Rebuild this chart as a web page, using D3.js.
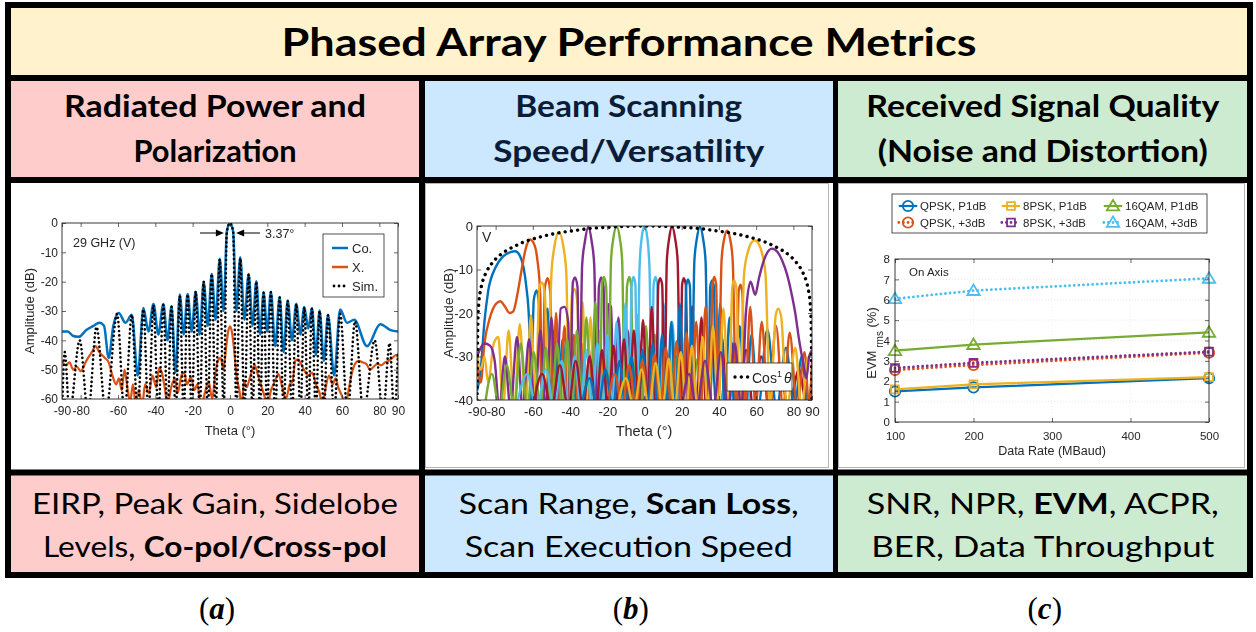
<!DOCTYPE html>
<html><head><meta charset="utf-8">
<script src="https://cdn.jsdelivr.net/npm/d3@7/dist/d3.min.js"></script>
<style>
html,body{margin:0;padding:0;background:#fff;}
svg{display:block;}
</style></head>
<body>
<svg id="fig" width="1256" height="632"></svg>
<script>
// ---------------- text content ----------------
const figTitle = 'Phased Array Performance Metrics';
const panelHeads = [
  ['Radiated Power and', 'Polarization'],
  ['Beam Scanning', 'Speed/Versatility'],
  ['Received Signal Quality', '(Noise and Distortion)']
];
// [text, isBold] runs per line
const panelMetrics = [
  [[['EIRP, Peak Gain, Sidelobe', 0]], [['Levels, ', 0], ['Co-pol/Cross-pol', 1]]],
  [[['Scan Range, ', 0], ['Scan Loss', 1], [',', 0]], [['Scan Execution Speed', 0]]],
  [[['SNR, NPR, ', 0], ['EVM', 1], [', ACPR,', 0]], [['BER, Data Throughput', 0]]]
];
const panelTags = ['a', 'b', 'c'];

// ---------------- panel (a): 29 GHz pattern, [theta (deg), amplitude (dB)] ----------------
const coPol = [[-90,-37],[-87,-37],[-84,-38.5],[-81,-38.8],[-77,-36.5],[-73,-35],[-70,-34],[-67.5,-35],[-65,-46],[-62.5,-35],
  [-59.6,-30.7],[-56,-34],[-52.6,-31.3],[-49.4,-52],[-46.4,-29],[-43.7,-37],[-41,-27.6],[-38.4,-38],[-35.7,-27.6],[-33.5,-40],
  [-31.3,-28.4],[-29.2,-51],[-26.9,-24.4],[-24.8,-38],[-22.7,-24.2],[-20.5,-37],[-18.4,-23.4],[-16.2,-38],[-14.1,-20],[-11.9,-35],
  [-9.8,-17.4],[-7.7,-33],[-5.5,-12.2],[-3.4,-30],[-1.7,-3],[0,0],[1.7,-3],[3.4,-30],[5.5,-11.7],[7.7,-33],[10,-17.4],[12.1,-35],
  [14.1,-19.9],[16.1,-38],[18,-23.6],[19.9,-37],[21.9,-23.4],[24.2,-42],[26.6,-25.2],[28.7,-44],[30.9,-26.4],[33.2,-40],[35.5,-27.5],
  [37.7,-38],[39.8,-28.6],[41.9,-36],[43.9,-29],[46,-45],[48,-29.8],[50.3,-47],[52.5,-31.3],[55.8,-52],[59,-29.5],[62.7,-34],
  [66.6,-33],[73.4,-42],[80.5,-34.5],[86,-36.5],[90,-37]];
const crossPol = [[-90,-47],[-88,-48.5],[-86,-47.5],[-84,-50],[-82,-49],[-80,-50.5],[-77,-47],[-74,-44],[-72,-42],[-70,-44],
  [-67,-46],[-65,-47.5],[-63,-52],[-61,-55],[-59.5,-53],[-58,-57],[-56.5,-50],[-55,-56],[-53.5,-61],[-52,-55],[-50.5,-62],[-49,-57],
  [-47,-62],[-45.5,-55],[-43.5,-58],[-41.5,-52],[-39.5,-56],[-38,-49.5],[-36.5,-51],[-35,-56],[-33.5,-62],[-31.5,-56],[-29.5,-53],
  [-28,-58],[-26,-52],[-24.5,-51],[-23,-55],[-21,-52.5],[-19,-57],[-17.5,-55],[-15.5,-62],[-13.5,-58],[-11.5,-54],[-9.5,-60],[-8,-52],
  [-6.5,-47],[-5,-46],[-3.5,-50],[-2,-42],[-1,-37],[0,-35.2],[1,-37],[2,-42],[3.5,-52],[5,-57],[6.3,-62],[7.5,-54],[9,-56],[10.5,-53],
  [12,-50],[13.3,-48.5],[15,-52],[16.5,-55],[18,-58],[20,-62],[22,-57],[24,-54],[26,-51.5],[28,-56],[30,-60],[32,-55],[33.5,-54],
  [35,-47],[36.5,-46.5],[38,-48],[40,-50.5],[42,-52],[44,-51],[46,-55],[48,-58],[49.5,-62],[51,-57],[53,-52],[55,-55],[56.5,-53],
  [58,-56],[60,-59],[62,-62],[63.5,-57],[65,-52],[67,-48],[69,-47],[71,-47.5],[73,-48],[75,-50],[77,-49],[79,-48],[81,-48.5],
  [83,-47.5],[85,-47],[87,-46],[89,-45],[90,-46]];
const simPattern = [[-90,-65],[-88.5,-44],[-86,-65],[-80.5,-40],[-76,-65],[-71.5,-35.5],[-66.5,-65],[-60.5,-31],[-56.5,-65],
  [-52.6,-31.3],[-49.5,-65],[-46.4,-29.5],[-43.7,-65],[-41,-28],[-38.4,-65],[-35.7,-28],[-33.5,-65],[-31.3,-28.6],[-29.1,-65],
  [-26.9,-25],[-24.8,-65],[-22.7,-24.4],[-20.5,-65],[-18.4,-23.4],[-16.2,-65],[-14.1,-20],[-11.9,-65],[-9.8,-17.4],[-7.7,-65],
  [-5.5,-12.4],[-3.4,-65],[-1.7,-3],[0,0],[1.7,-3],[3.4,-65],[5.5,-12],[7.7,-65],[10,-17.6],[12.1,-65],[14.1,-20],[16.1,-65],
  [18,-23.8],[19.9,-65],[21.9,-23.6],[24.2,-65],[26.6,-25.4],[28.7,-65],[30.9,-26.6],[33.2,-65],[35.5,-27.7],[37.7,-65],[39.8,-28.8],
  [41.9,-65],[43.9,-29.2],[46,-65],[48,-30],[50.3,-65],[52.5,-31.5],[55.8,-65],[59,-31],[63,-65],[67,-33.5],[71.5,-65],[77.5,-40],
  [82,-65],[85.5,-41],[88,-65],[90,-44]];
const patternLegend = ['Co.', 'X.', 'Sim.'];
const thetaTicks = [-90,-80,-60,-40,-20,0,20,40,60,80,90];
const ampTicksA = [0,-10,-20,-30,-40,-50,-60];
const beamwidthDeg = 3.37;

// ---------------- panel (b): scanned beams, [theta (deg), amplitude (dB)] ----------------
const beamM68 = [[-90,-38],[-88,-33],[-86,-22],[-84,-15],[-80,-9.5],[-76,-7],[-72,-6],[-69.5,-5.8],[-67,-6.8],[-65,-9.5],[-63.5,-14],
  [-62,-22],[-61,-42],[-59.5,-17],[-58,-14.8],[-56.5,-19],[-55,-42],[-53.2,-20],[-52,-19],[-50.5,-42],[-48.5,-24],[-46.5,-42],[-44,-26],
  [-41.5,-42],[-39,-27],[-36.5,-42],[-34,-29],[-31.5,-42],[-29,-30],[-26.5,-42],[-24,-31],[-21.5,-42],[-19,-33],[-16,-42],[-13,-34],
  [-10,-42],[-6,-35],[-2,-42]];
const beamM60 = [[-90,-31],[-88,-36],[-86,-27],[-83,-21],[-80,-18],[-77.5,-17.3],[-75,-18.5],[-72.5,-20],[-70.5,-19.6],[-68,-15],
  [-66,-10],[-64,-5.5],[-61.5,-3.1],[-59,-4.5],[-57.5,-8],[-56,-16],[-55,-42],[-53.5,-14],[-52,-12],[-50.5,-16],[-49.5,-42],[-47.5,-20],
  [-45.5,-42],[-43,-23],[-40.5,-42],[-38,-25],[-35.5,-42],[-33,-27],[-30.5,-42],[-28,-28],[-25.5,-42],[-23,-30],[-20.5,-42],[-18,-31],
  [-15,-42],[-12,-32],[-9,-42],[-5,-34],[-1,-42],[3,-35],[7,-42]];
const beamM45 = [[-90,-29],[-88,-33],[-86,-30],[-84,-36],[-81,-27],[-78.5,-25.5],[-76,-42],[-73,-24],[-70,-42],[-67,-22.5],[-64,-42],
  [-61,-20.5],[-58.5,-42],[-56.5,-14],[-55,-13],[-53.5,-16],[-52,-42],[-50,-11],[-48.5,-5],[-46,-1.4],[-43.5,-5],[-42,-11],[-40.5,-42],
  [-39,-16],[-37.5,-14.5],[-36,-18],[-35,-42],[-33.2,-17.5],[-31.5,-42],[-29,-21],[-27,-42],[-24.5,-24],[-22,-42],[-19.5,-26],[-17,-42],
  [-14,-28],[-11,-42],[-8,-29],[-5,-42],[-1,-31],[3,-42],[7,-32],[11,-42]];
const beamM30 = [[-90,-30],[-88,-28],[-86,-27],[-83,-27.5],[-80.5,-31],[-78,-42],[-75,-30],[-72,-42],[-68.5,-25.5],[-65.5,-42],
  [-62,-26],[-59,-42],[-56,-24],[-53,-42],[-50,-21],[-47.5,-42],[-45,-19],[-43,-18.6],[-41,-22],[-40,-42],[-38.5,-13],[-37.3,-11.8],
  [-36,-14],[-35,-42],[-33.5,-9],[-32,-3.5],[-30.2,-0.2],[-28.4,-3.5],[-27,-9],[-25.6,-42],[-24.5,-14],[-23.3,-11.8],[-22,-14],[-21,-42],
  [-19.5,-18],[-18,-18.5],[-16.5,-42],[-14,-21],[-11.5,-42],[-9,-24],[-6,-42],[-3,-26],[0,-42],[3,-27.5],[6,-42],[9.5,-29],[13,-42],
  [17,-30],[21,-42]];
const beamM15 = [[-86,-42],[-82,-34],[-78,-42],[-74,-32],[-70,-42],[-66.5,-27],[-63,-42],[-59.5,-29],[-56,-42],[-53,-28],[-50,-42],
  [-47,-27],[-44.3,-42],[-41.5,-26],[-39,-42],[-36.3,-24],[-33.7,-42],[-31.2,-21],[-28.8,-42],[-26.4,-17.5],[-24,-42],[-22.8,-13],
  [-21.8,-11.7],[-20.6,-14],[-19.4,-42],[-18,-8],[-16.8,-3],[-15,-0.2],[-13.2,-3],[-12,-8],[-10.6,-42],[-9.4,-14],[-8.2,-11.7],
  [-7.2,-13.5],[-6,-42],[-3.8,-20.5],[-1.6,-42],[0.8,-23],[3.2,-42],[5.6,-25],[8,-42],[10.6,-27],[13.3,-42],[16,-28],[18.8,-42],
  [21.8,-29],[25,-42],[28.5,-30.5],[32,-42],[36,-32],[40,-42],[44.5,-33],[49,-42]];
const beam0 = [[-69,-42],[-63,-34],[-58,-42],[-53,-33],[-48.5,-42],[-44.5,-31],[-41,-42],[-37.5,-30],[-34.3,-42],[-31.2,-28.5],
  [-28.2,-42],[-25.3,-27],[-22.5,-42],[-20,-25],[-17.4,-42],[-15,-22],[-12.6,-42],[-10.3,-17.8],[-8,-42],[-6.9,-13.5],[-5.9,-11.7],
  [-4.9,-13.5],[-4,-42],[-2.7,-10],[-1.6,-3],[0,0],[1.6,-3],[2.7,-10],[4,-42],[4.9,-13.5],[5.9,-11.7],[6.9,-13.5],[8,-42],[10.3,-17.8],
  [12.6,-42],[15,-22],[17.4,-42],[20,-25],[22.5,-42],[25.3,-27],[28.2,-42],[31.2,-28.5],[34.3,-42],[37.5,-30],[41,-42],[44.5,-31],
  [48.5,-42],[53,-33],[58,-42],[63,-34],[69,-42]];
const beamP15 = [[-60,-42],[-55,-34],[-50,-42],[-45.5,-32],[-41,-42],[-37,-31],[-33,-42],[-29.5,-30],[-26,-42],[-22.8,-28.5],
  [-19.6,-42],[-16.6,-27.5],[-13.8,-42],[-11,-26],[-8.3,-42],[-5.7,-24],[-3.2,-42],[-0.8,-21.6],[1.6,-42],[3.9,-18.6],[6.2,-42],
  [7.4,-13.5],[8.4,-12],[9.5,-13.5],[10.7,-42],[12,-8],[13.2,-3],[14.8,-0.1],[16.5,-3],[17.8,-8],[19.3,-42],[20.2,-13.5],[21.1,-12],
  [22.2,-13.5],[23.4,-42],[25.6,-18.5],[28,-42],[30.6,-21],[33.2,-42],[35.9,-23],[38.6,-42],[41.5,-25.5],[44.5,-42],[47.6,-27],
  [51,-42],[54.6,-28.5],[58.5,-42],[62.7,-30],[67,-42],[72,-31.5],[77.5,-42],[83,-33],[87.5,-42],[90,-36]];
const beamP30 = [[-34,-42],[-29.5,-35],[-25,-42],[-21,-33],[-17,-42],[-13.5,-31],[-10.2,-42],[-7,-30],[-4,-42],[-1.1,-28.5],
  [1.7,-42],[4.4,-27],[7,-42],[9.5,-25],[12,-42],[14.4,-22],[16.8,-42],[19,-18],[21.3,-42],[22.4,-13.8],[23.4,-12.3],[24.4,-13.8],
  [25.4,-42],[26.8,-8],[28.1,-3],[29.8,-0.2],[31.5,-3],[32.8,-8],[34.3,-42],[35.3,-14],[36.3,-12.5],[37.3,-14],[38.4,-42],[40.7,-17.8],
  [43.1,-42],[45.7,-21],[48.4,-42],[51.2,-23],[54.2,-42],[57.5,-25],[61,-42],[66,-23.8],[71,-42],[76,-28],[80.5,-42],[84.5,-30],
  [88,-42],[90,-33]];
const beamP45 = [[-20,-42],[-16,-34],[-12,-42],[-8.3,-32],[-4.6,-42],[-1.2,-31],[2.2,-42],[5.4,-29.5],[8.5,-42],[11.5,-28],[14.4,-42],
  [17.2,-26.5],[20,-42],[22.6,-24.5],[25.2,-42],[27.8,-22],[30.3,-42],[32.8,-18.5],[35.3,-42],[36.5,-13.5],[37.5,-11.7],[38.5,-13.5],
  [39.6,-42],[41.4,-8],[42.8,-3],[44.4,-1.1],[46,-3],[47.4,-8],[49.3,-42],[50.6,-15],[51.6,-13.5],[52.6,-15.5],[54,-42],[56.8,-18.6],
  [59.7,-42],[63,-22],[66.5,-42],[70.7,-23],[74.5,-42],[78,-24.5],[82,-42],[86,-29],[88.5,-42],[90,-31]];
const beamP60 = [[-14.5,-42],[-10,-35],[-5.7,-42],[-1.6,-33],[2.3,-42],[6,-31.5],[9.6,-42],[13,-30.5],[16.3,-42],[19.5,-29],
  [22.5,-42],[25.5,-27.5],[28.4,-42],[31.2,-25.5],[34,-42],[36.8,-23],[39.6,-42],[42.4,-19],[45.3,-42],[47.2,-14],[48.2,-12.5],
  [49.3,-14],[51.3,-42],[53.5,-11],[55.5,-6],[57.2,-4],[59.2,-3.3],[61.2,-4],[63,-6],[65,-11],[67.5,-42],[70.5,-20.5],[71.8,-19],
  [73.5,-21],[76.5,-42],[81,-28],[84.5,-42],[87.5,-31],[90,-29]];
const beamP68 = [[20,-42],[24,-34],[28,-42],[32.5,-31],[37,-42],[41,-29],[45,-42],[48.5,-27],[52,-42],[54.5,-20],[57,-12.8],
  [59.5,-15.8],[61.5,-12],[63,-9.5],[65.5,-6.5],[68.5,-5.2],[71.5,-6],[74,-8],[76.5,-11],[79,-15.5],[81,-20],[83,-26],[85.5,-32],
  [87,-35],[88.5,-30],[90,-28.5]];
const scannedBeams = [beamM68, beamM60, beamM45, beamM30, beamM15, beam0, beamP15, beamP30, beamP45, beamP60, beamP68];
const cosEnvelope = [[-89.95,-40],[-89.5,-21.6],[-89,-17.6],[-88,-14.6],[-87,-12.8],[-85,-10.6],[-82,-8.6],[-78,-6.8],[-74,-5.6],
  [-70,-4.7],[-65,-3.7],[-60,-3],[-55,-2.4],[-50,-1.9],[-45,-1.5],[-40,-1.2],[-35,-0.9],[-30,-0.6],[-25,-0.4],[-20,-0.3],[-15,-0.15],
  [-10,-0.07],[-5,-0.02],[0,0],[5,-0.02],[10,-0.07],[15,-0.15],[20,-0.3],[25,-0.4],[30,-0.6],[35,-0.9],[40,-1.2],[45,-1.5],[50,-1.9],
  [55,-2.4],[60,-3],[65,-3.7],[70,-4.7],[74,-5.6],[78,-6.8],[82,-8.6],[85,-10.6],[87,-12.8],[88,-14.6],[89,-17.6],[89.5,-21.6],[89.95,-40]];
const ampTicksB = [0,-10,-20,-30,-40];

// ---------------- panel (c): on-axis EVM (%) vs data rate (MBaud) ----------------
const dataRates = [100, 200, 500];
const evmQpskP1 = [1.5, 1.7, 2.15];
const evmQpsk3 = [2.55, 2.8, 3.4];
const evm8pskP1 = [1.6, 1.85, 2.2];
const evm8psk3 = [2.65, 2.9, 3.45];
const evm16qamP1 = [3.5, 3.8, 4.4];
const evm16qam3 = [6.05, 6.45, 7.05];
const evmNames = ['QPSK, P1dB', 'QPSK, +3dB', '8PSK, P1dB', '8PSK, +3dB', '16QAM, P1dB', '16QAM, +3dB'];
const rateTicks = [100, 200, 300, 400, 500];
const evmTicks = [0, 1, 2, 3, 4, 5, 6, 7, 8];

// ---------------- styling ----------------
const matlabColors = ['#0072BD', '#D95319', '#EDB120', '#7E2F8E', '#77AC30', '#4DBEEE', '#A2142F'];
const axisInk = '#262626';
const plotFont = '"Liberation Sans", Arial, Helvetica, sans-serif';
const slideFont = 'Lato, "Open Sans", sans-serif';

const fig = d3.select('#fig');
const defs = fig.append('defs');
defs.append('filter').attr('id', 'soft').attr('x', '-5%').attr('y', '-5%').attr('width', '110%').attr('height', '110%')
  .append('feGaussianBlur').attr('stdDeviation', 0.4);

// ---------------- grid of cells ----------------
const colEdges = [8, 422, 835.5, 1250];
const cellFills = ['#FFCCCC', '#CCE8FF', '#CCEBD0'];
fig.append('rect').attr('x', 8).attr('y', 5).attr('width', 1242).attr('height', 73).attr('fill', '#FFF2CC');
for (let i = 0; i < 3; i++) {
  const w = colEdges[i + 1] - colEdges[i];
  fig.append('rect').attr('x', colEdges[i]).attr('y', 78).attr('width', w).attr('height', 102).attr('fill', cellFills[i]);
  fig.append('rect').attr('x', colEdges[i]).attr('y', 472.5).attr('width', w).attr('height', 102.5).attr('fill', cellFills[i]);
}

function addText(g, x, y, runs, o) {
  const t = g.append('text').attr('x', x).attr('y', y).attr('text-anchor', 'middle')
    .style('font-family', o.family).style('font-size', o.size + 'px').attr('fill', o.fill || '#000');
  runs.forEach(([s, b]) => t.append('tspan').text(s).style('font-weight', b ? 700 : (o.weight || 400)));
  if (o.width) t.attr('textLength', o.width).attr('lengthAdjust', 'spacingAndGlyphs');
  return t;
}

const colCenter = i => (colEdges[i] + colEdges[i + 1]) / 2;
addText(fig, 629, 56, [[figTitle, 1]], {family: slideFont, size: 39, width: 695});
const headWidths = [[302, 163], [227, 271], [353, 330]];
const headInk = ['#000', '#0B1C38', '#000'];
panelHeads.forEach((lines, i) => {
  lines.forEach((s, j) => addText(fig, colCenter(i), 117 + 45 * j, [[s, 1]],
    {family: slideFont, size: 30, width: headWidths[i][j], fill: headInk[i]}));
});
const metricWidths = [[366, 344], [340, 328], [352, 343]];
panelMetrics.forEach((lines, i) => {
  lines.forEach((runs, j) => addText(fig, colCenter(i), 514 + 43 * j, runs,
    {family: slideFont, size: 28, width: metricWidths[i][j]}));
});
panelTags.forEach((s, i) => {
  const t = fig.append('text').attr('x', colCenter(i) + 2).attr('y', 619).attr('text-anchor', 'middle')
    .style('font-family', '"Liberation Serif", "DejaVu Serif", serif').style('font-size', '31px');
  t.append('tspan').text('(');
  t.append('tspan').text(s).style('font-style', 'italic').style('font-weight', 700);
  t.append('tspan').text(')');
});

// thin frames of the embedded plot images
fig.append('rect').attr('x', 425.5).attr('y', 183.5).attr('width', 403).attr('height', 284)
  .attr('fill', 'none').attr('stroke', '#b5b5b5').attr('stroke-width', 1);
fig.append('rect').attr('x', 838.5).attr('y', 183.5).attr('width', 406).attr('height', 284)
  .attr('fill', 'none').attr('stroke', '#b5b5b5').attr('stroke-width', 1);

// ---------------- shared MATLAB-style box axes ----------------
function matlabAxes(g, x, y, xt, yt, o) {
  const [x0, x1] = x.range(), [yb, yt0] = y.range();
  const fmt = d => String(d);
  const style = sel => {
    sel.select('.domain').remove();
    sel.selectAll('line').attr('stroke', axisInk).attr('stroke-width', 0.7);
    sel.selectAll('text').attr('fill', axisInk).style('font-family', plotFont).style('font-size', o.font + 'px');
  };
  g.append('g').attr('transform', `translate(0,${yb})`)
    .call(d3.axisBottom(x).tickValues(xt).tickFormat(fmt).tickSizeInner(-o.tick).tickSizeOuter(0).tickPadding(o.xPad)).call(style);
  g.append('g').attr('transform', `translate(0,${yt0})`)
    .call(d3.axisTop(x).tickValues(xt).tickFormat(() => '').tickSizeInner(-o.tick).tickSizeOuter(0)).call(style);
  g.append('g').attr('transform', `translate(${x0},0)`)
    .call(d3.axisLeft(y).tickValues(yt).tickFormat(fmt).tickSizeInner(-o.tick).tickSizeOuter(0).tickPadding(o.yPad)).call(style);
  g.append('g').attr('transform', `translate(${x1},0)`)
    .call(d3.axisRight(y).tickValues(yt).tickFormat(() => '').tickSizeInner(-o.tick).tickSizeOuter(0)).call(style);
  g.append('rect').attr('x', x0).attr('y', yt0).attr('width', x1 - x0).attr('height', yb - yt0)
    .attr('fill', 'none').attr('stroke', axisInk).attr('stroke-width', 0.9);
}
function plotText(g, x, y, s, size, anchor) {
  return g.append('text').attr('x', x).attr('y', y).attr('text-anchor', anchor || 'start')
    .style('font-family', plotFont).style('font-size', size + 'px').attr('fill', axisInk).text(s);
}
function clipFor(id, x, y) {
  const [x0, x1] = x.range(), [yb, yt0] = y.range();
  defs.append('clipPath').attr('id', id).append('rect').attr('x', x0).attr('y', yt0).attr('width', x1 - x0).attr('height', yb - yt0);
  return `url(#${id})`;
}

// ---------------- panel (a) ----------------
{
  const g = fig.append('g').attr('filter', 'url(#soft)');
  const x = d3.scaleLinear().domain([-90, 90]).range([62, 398]);
  const y = d3.scaleLinear().domain([-60, 0]).range([399, 223]);
  const line = d3.line().x(d => x(d[0])).y(d => y(d[1])).curve(d3.curveMonotoneX);
  const data = g.append('g').attr('clip-path', clipFor('clipA', x, y));
  data.append('path').attr('d', line(coPol)).attr('fill', 'none').attr('stroke', matlabColors[0]).attr('stroke-width', 2.5);
  data.append('path').attr('d', line(crossPol)).attr('fill', 'none').attr('stroke', matlabColors[1]).attr('stroke-width', 2.2);
  data.append('path').attr('d', line(simPattern)).attr('fill', 'none').attr('stroke', '#000').attr('stroke-width', 2.6)
    .attr('stroke-dasharray', '0.01,4.4').attr('stroke-linecap', 'round');
  matlabAxes(g, x, y, thetaTicks, ampTicksA, {tick: 4, font: 12, xPad: 7, yPad: 4});
  plotText(g, 230, 435, 'Theta (°)', 13, 'middle');
  plotText(g, 0, 0, 'Amplitude (dB)', 13, 'middle').attr('transform', 'translate(34,311) rotate(-90)');
  plotText(g, 73, 247, '29 GHz (V)', 12.5);
  // beamwidth marker
  const ya = 233, tipL = x(-beamwidthDeg / 2) - 3, tipR = x(beamwidthDeg / 2) + 3;
  g.append('line').attr('x1', 200).attr('x2', tipL - 6).attr('y1', ya).attr('y2', ya).attr('stroke', '#000').attr('stroke-width', 1);
  g.append('path').attr('d', `M${tipL},${ya}L${tipL - 8},${ya - 3.5}L${tipL - 8},${ya + 3.5}Z`).attr('fill', '#000');
  g.append('line').attr('x1', 260).attr('x2', tipR + 6).attr('y1', ya).attr('y2', ya).attr('stroke', '#000').attr('stroke-width', 1);
  g.append('path').attr('d', `M${tipR},${ya}L${tipR + 8},${ya - 3.5}L${tipR + 8},${ya + 3.5}Z`).attr('fill', '#000');
  plotText(g, 265, 238, beamwidthDeg + '°', 12.5);
  // legend
  g.append('rect').attr('x', 323).attr('y', 234).attr('width', 61).attr('height', 63)
    .attr('fill', '#fff').attr('stroke', axisInk).attr('stroke-width', 0.8);
  const legY = [248, 267, 286];
  patternLegend.forEach((s, i) => {
    const ln = g.append('line').attr('x1', 332).attr('x2', 348).attr('y1', legY[i]).attr('y2', legY[i]);
    if (i < 2) ln.attr('stroke', matlabColors[i]).attr('stroke-width', 2.5);
    else ln.attr('stroke', '#000').attr('stroke-width', 2.8).attr('stroke-dasharray', '0.01,5').attr('stroke-linecap', 'round')
      .attr('x1', 334).attr('x2', 345);
    plotText(g, 352, legY[i] + 4.5, s, 13);
  });
}

// ---------------- panel (b) ----------------
{
  const g = fig.append('g').attr('filter', 'url(#soft)');
  const x = d3.scaleLinear().domain([-90, 90]).range([477, 812]);
  const y = d3.scaleLinear().domain([-40, 0]).range([400, 226]);
  const line = d3.line().x(d => x(d[0])).y(d => y(d[1])).curve(d3.curveMonotoneX);
  const data = g.append('g').attr('clip-path', clipFor('clipB', x, y));
  scannedBeams.forEach((b, i) => {
    data.append('path').attr('d', line(b)).attr('fill', 'none')
      .attr('stroke', matlabColors[i % matlabColors.length]).attr('stroke-width', 2.4);
  });
  data.append('path').attr('d', line(cosEnvelope)).attr('fill', 'none').attr('stroke', '#000').attr('stroke-width', 3.4)
    .attr('stroke-dasharray', '0.01,6.3').attr('stroke-linecap', 'round');
  matlabAxes(g, x, y, thetaTicks, ampTicksB, {tick: 4, font: 13, xPad: 7, yPad: 4});
  plotText(g, 644, 436, 'Theta (°)', 14.5, 'middle');
  plotText(g, 0, 0, 'Amplitude (dB)', 13.5, 'middle').attr('transform', 'translate(453,313) rotate(-90)');
  plotText(g, 482, 242, 'V', 14);
  g.append('rect').attr('x', 727).attr('y', 363).attr('width', 65).attr('height', 28)
    .attr('fill', '#fff').attr('stroke', axisInk).attr('stroke-width', 0.8);
  g.append('line').attr('x1', 735).attr('x2', 748).attr('y1', 377).attr('y2', 377).attr('stroke', '#000').attr('stroke-width', 3.4)
    .attr('stroke-dasharray', '0.01,6.3').attr('stroke-linecap', 'round');
  const lt = plotText(g, 752, 382.5, 'Cos', 14);
  lt.append('tspan').text('1').attr('dy', -5.5).style('font-size', '9px');
  lt.append('tspan').text('θ').attr('dy', 5.5).attr('dx', 2).style('font-style', 'italic');
}

// ---------------- panel (c) ----------------
{
  const g = fig.append('g').attr('filter', 'url(#soft)');
  const x = d3.scaleLinear().domain([100, 500]).range([895, 1209]);
  const y = d3.scaleLinear().domain([0, 8]).range([422, 259]);
  // faint grid
  g.append('g').selectAll('line').data(evmTicks.slice(1, -1)).join('line')
    .attr('x1', x(100)).attr('x2', x(500)).attr('y1', d => y(d)).attr('y2', d => y(d))
    .attr('stroke', '#dcdcdc').attr('stroke-width', 0.6).attr('stroke-dasharray', '1,2');
  g.append('g').selectAll('line').data(rateTicks.slice(1, -1)).join('line')
    .attr('x1', d => x(d)).attr('x2', d => x(d)).attr('y1', y(0)).attr('y2', y(8))
    .attr('stroke', '#e6e6e6').attr('stroke-width', 0.6).attr('stroke-dasharray', '1,2');

  const series = [evmQpskP1, evmQpsk3, evm8pskP1, evm8psk3, evm16qamP1, evm16qam3];
  const seriesColor = [matlabColors[0], matlabColors[1], matlabColors[2], matlabColors[3], matlabColors[4], matlabColors[5]];
  const seriesDotted = [false, true, false, true, false, true];
  const seriesMarker = ['circle', 'circle', 'square', 'square', 'triangle', 'triangle'];
  const markerPath = kind => {
    if (kind === 'circle') return d3.symbol(d3.symbolCircle, 85)();
    if (kind === 'square') return d3.symbol(d3.symbolSquare, 62)();
    return `M0,-6L6.2,4.4L-6.2,4.4Z`;
  };
  const line = d3.line().x((d, i) => x(dataRates[i])).y(d => y(d));
  series.forEach((s, k) => {
    const p = g.append('path').attr('d', line(s)).attr('fill', 'none').attr('stroke', seriesColor[k]).attr('stroke-width', 2.2);
    if (seriesDotted[k]) p.attr('stroke-dasharray', '0.01,4.6').attr('stroke-linecap', 'round').attr('stroke-width', 2.8);
    s.forEach((v, i) => {
      g.append('path').attr('d', markerPath(seriesMarker[k])).attr('transform', `translate(${x(dataRates[i])},${y(v)})`)
        .attr('fill', 'none').attr('stroke', seriesColor[k]).attr('stroke-width', 1.8);
    });
  });
  matlabAxes(g, x, y, rateTicks, evmTicks, {tick: 4, font: 11.5, xPad: 10, yPad: 5});
  plotText(g, 1052, 455, 'Data Rate (MBaud)', 12.5, 'middle');
  const yl = plotText(g, 0, 0, 'EVM', 13, 'middle').attr('transform', 'translate(876,343) rotate(-90)');
  yl.append('tspan').text(' rms').attr('dy', 7).style('font-size', '10px');
  yl.append('tspan').text(' (%)').attr('dy', -7);
  plotText(g, 909, 276, 'On Axis', 11.5);
  // legend
  g.append('rect').attr('x', 892).attr('y', 194).attr('width', 315).attr('height', 39)
    .attr('fill', '#fff').attr('stroke', axisInk).attr('stroke-width', 0.8);
  const legCols = [908, 1011, 1113], legRows = [206, 222.5];
  evmNames.forEach((s, k) => {
    const cx = legCols[Math.floor(k / 2)], cy = legRows[k % 2];
    const ln = g.append('line').attr('x1', cx - 9.2).attr('x2', cx + 9.2).attr('y1', cy).attr('y2', cy)
      .attr('stroke', seriesColor[k]).attr('stroke-width', 2.2);
    if (seriesDotted[k]) ln.attr('stroke-dasharray', '0.01,4.6').attr('stroke-linecap', 'round').attr('stroke-width', 2.8);
    g.append('path').attr('d', markerPath(seriesMarker[k])).attr('transform', `translate(${cx},${cy})`)
      .attr('fill', 'none').attr('stroke', seriesColor[k]).attr('stroke-width', 1.8);
    plotText(g, cx + 12, cy + 4, s, 11.5);
  });
}

// ---------------- ruling lines on top ----------------
fig.append('rect').attr('x', 8).attr('y', 5).attr('width', 1242).attr('height', 570)
  .attr('fill', 'none').attr('stroke', '#000').attr('stroke-width', 6);
[78, 180, 472.5].forEach(yv => fig.append('line').attr('x1', 8).attr('x2', 1250).attr('y1', yv).attr('y2', yv)
  .attr('stroke', '#000').attr('stroke-width', 6));
[422, 835.5].forEach(xv => fig.append('line').attr('x1', xv).attr('x2', xv).attr('y1', 78).attr('y2', 575)
  .attr('stroke', '#000').attr('stroke-width', xv === 422 ? 6 : 5));
</script>
</body></html>
